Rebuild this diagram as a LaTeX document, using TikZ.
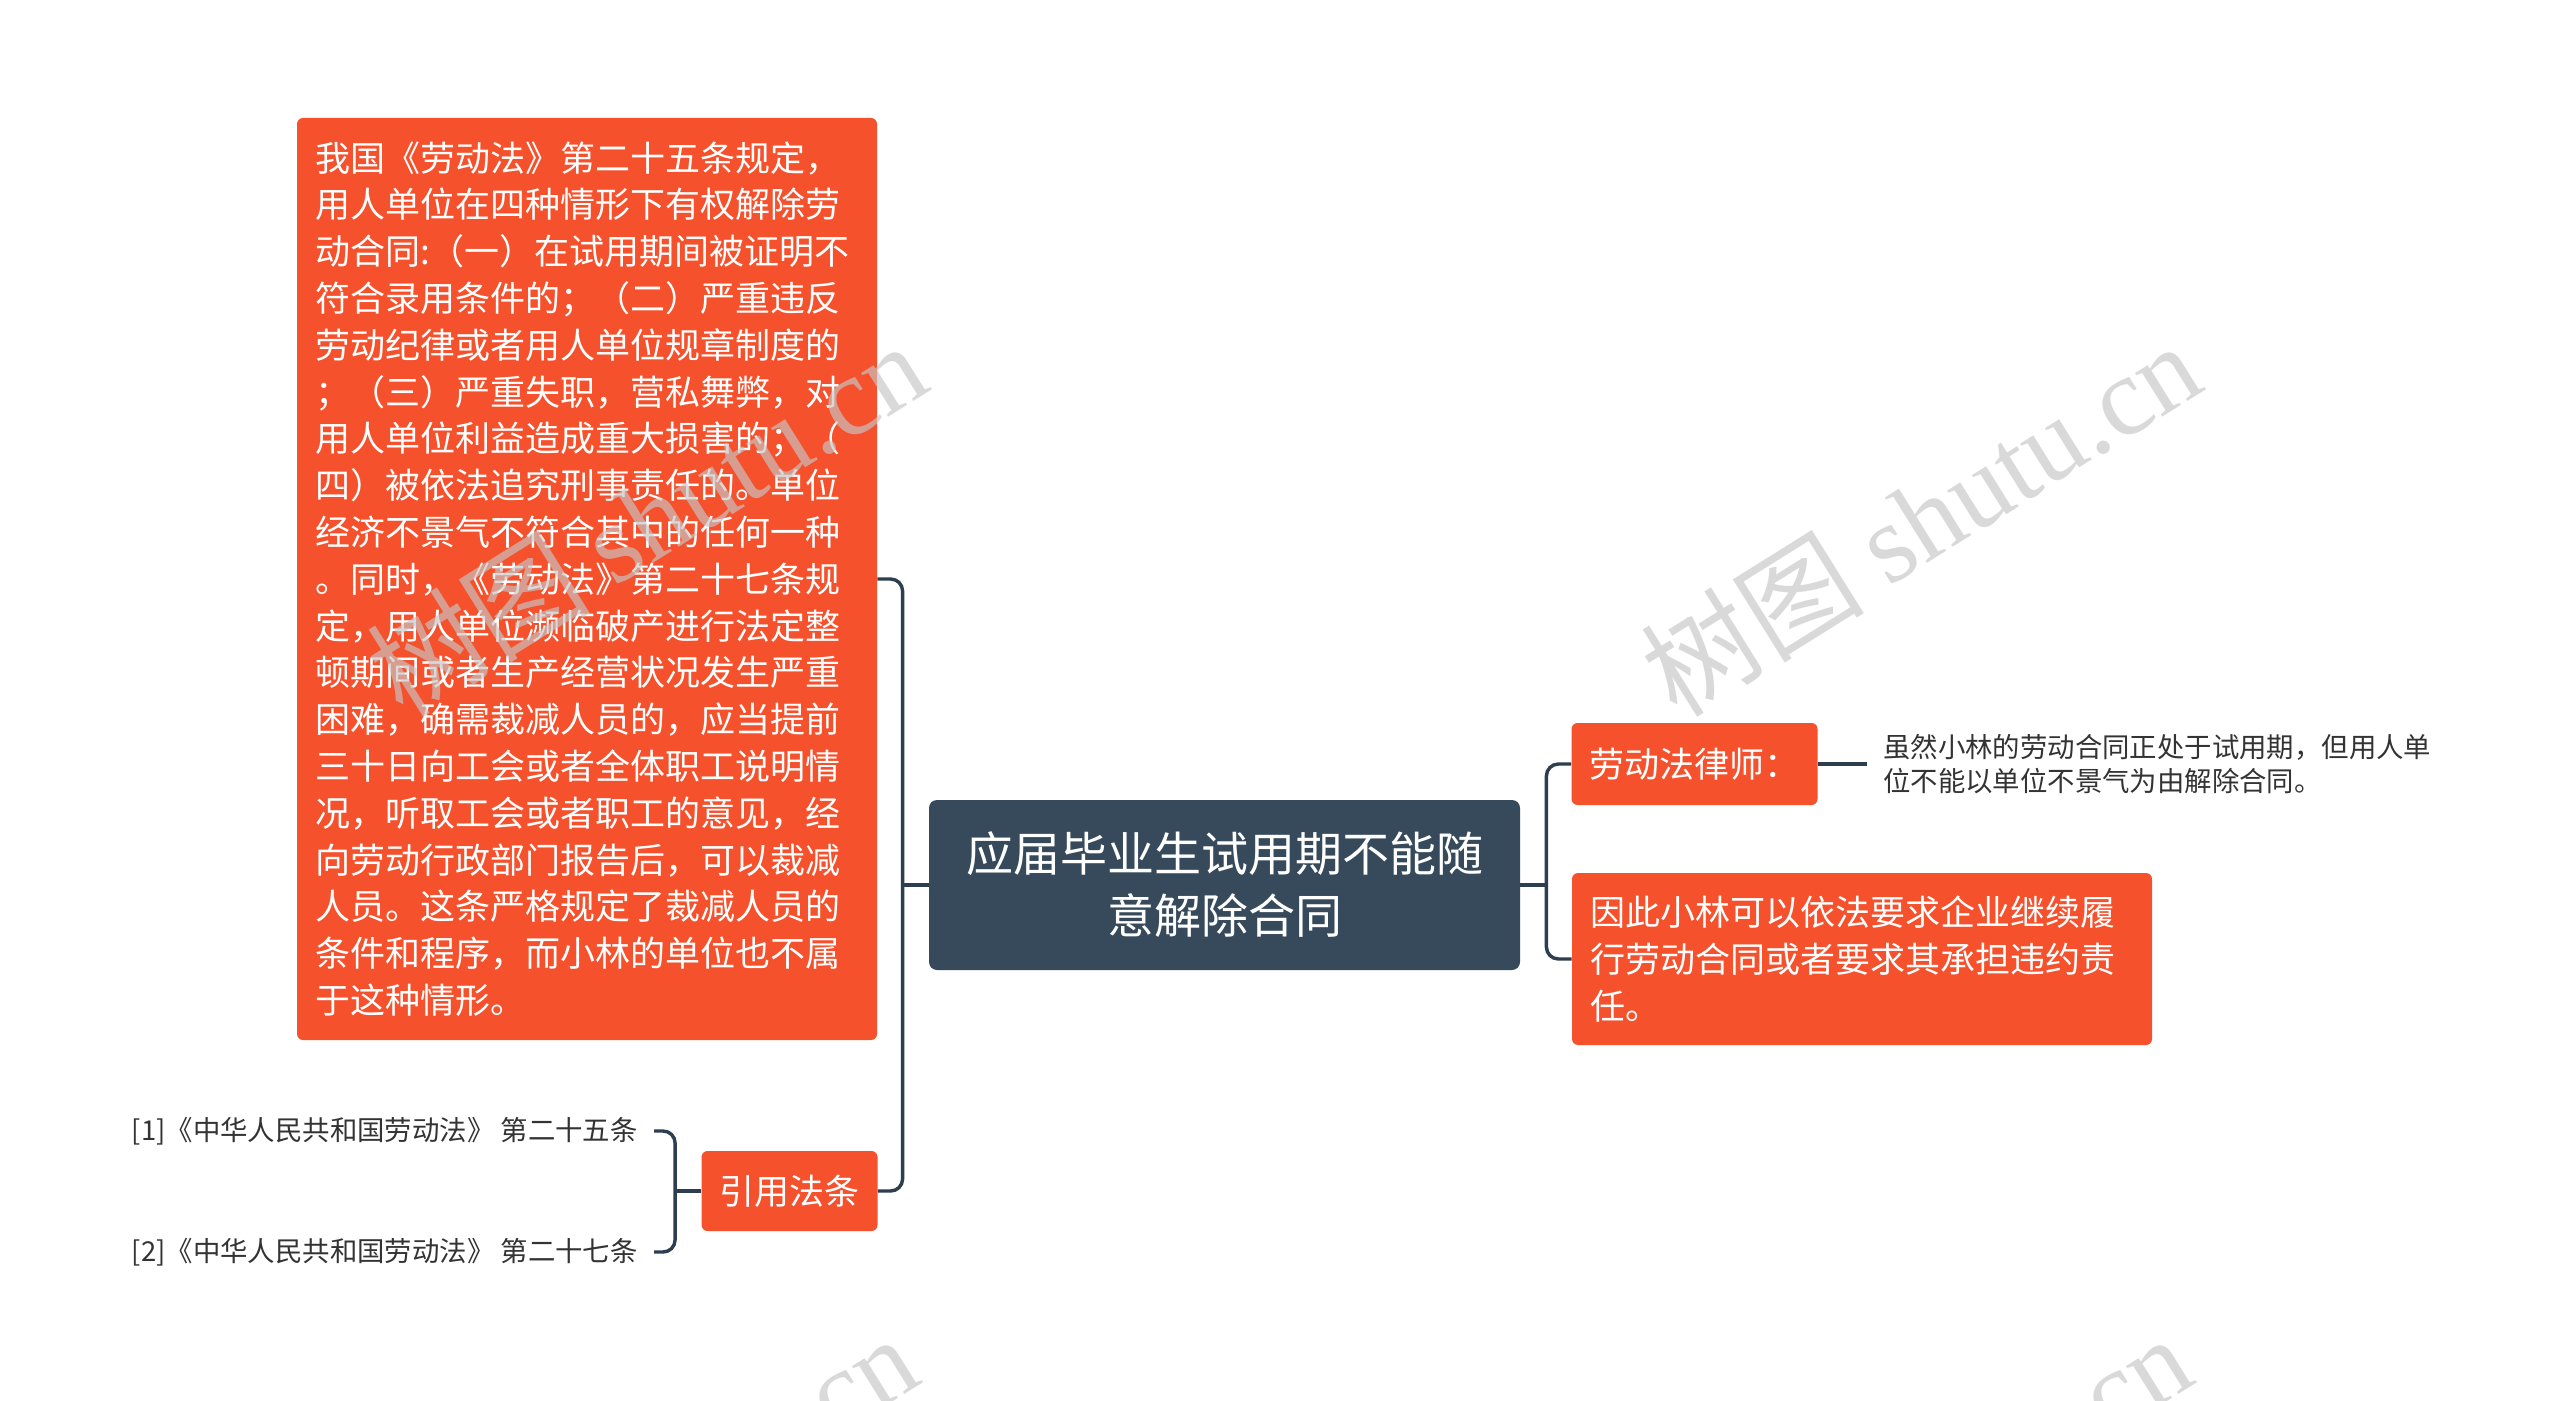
\documentclass[tikz,border=0pt]{standalone}
\usepackage{fontspec}
\setmainfont{Noto Sans CJK SC}
\newfontfamily\wmfont{Liberation Serif}
\usepackage{tikz}
\usepackage{xcolor}
\usetikzlibrary{positioning,calc}
\definecolor{topicred}{HTML}{F5512C}
\definecolor{rootblue}{HTML}{364A5C}
\definecolor{linkblue}{HTML}{2C3E50}
\definecolor{notegray}{HTML}{333333}

\begin{document}
\begin{tikzpicture}[x=0.5pt, y=-0.5pt,
  topic/.style={rectangle, fill=topicred, rounded corners=3pt, text=white, inner xsep=9pt, inner ysep=0pt, font=\fontsize{17.5}{23.4}\selectfont},
  longtopic/.style={topic, text width=272pt, align=left},
  link/.style={draw=linkblue, line width=1.7pt, rounded corners=6pt},
  leaf/.style={text=notegray, inner xsep=8pt, inner ysep=0pt, align=left, font=\fontsize{13.7}{17}\selectfont},
  wmark/.style={text=gray!45, text opacity=0.65, rotate=32, font=\fontsize{56}{56}\selectfont}]
\fill[white] (0,0) rectangle (2560,1401);
\useasboundingbox (0,0) rectangle (2560,1401);

\node[rectangle, fill=rootblue, rounded corners=4pt, text=white, minimum width=295.5pt, minimum height=85pt, align=center, font=\fontsize{23.5}{31}\selectfont] (root) at (1224.5,885) {应届毕业生试用期不能随\\意解除合同};

\node[longtopic, minimum height=461pt] (law) at (587,579) {我国《劳动法》第二十五条规定，\\用人单位在四种情形下有权解除劳\\动合同:（一）在试用期间被证明不\\符合录用条件的；（二）严重违反\\劳动纪律或者用人单位规章制度的\\；（三）严重失职，营私舞弊，对\\用人单位利益造成重大损害的；（\\四）被依法追究刑事责任的。单位\\经济不景气不符合其中的任何一种\\。同时，《劳动法》第二十七条规\\定，用人单位濒临破产进行法定整\\顿期间或者生产经营状况发生严重\\困难，确需裁减人员的，应当提前\\三十日向工会或者全体职工说明情\\况，听取工会或者职工的意见，经\\向劳动行政部门报告后，可以裁减\\人员。这条严格规定了裁减人员的\\条件和程序，而小林的单位也不属\\于这种情形。};
\node[topic, minimum height=40pt] (cite) at (789.5,1191) {引用法条};
\node[topic, minimum height=41pt] (lawyer) at (1694.5,764) {劳动法律师：};
\node[longtopic, minimum height=86pt] (claim) at (1862,959) {因此小林可以依法要求企业继续履\\行劳动合同或者要求其承担违约责\\任。};

\node[leaf, right=24.5pt of lawyer] (note) {虽然小林的劳动合同正处于试用期，但用人单\\位不能以单位不景气为由解除合同。};
\node[leaf, anchor=east] (c1) at (654,1131) {[1]《中华人民共和国劳动法》 第二十五条};
\node[leaf, anchor=east] (c2) at (654,1252) {[2]《中华人民共和国劳动法》 第二十七条};

% connectors
\coordinate (lj) at ($(root.west)+(-26,0)$);
\draw[link] (law.east) -| (lj) |- (cite.east);
\draw[link] (root.west) -- (lj);
\coordinate (rj) at ($(root.east)+(26,0)$);
\draw[link] (lawyer.west) -| (rj) |- (claim.west);
\draw[link] (root.east) -- (rj);
\coordinate (cj) at ($(cite.west)+(-26,0)$);
\draw[link] (c1.east) -| (cj) |- (c2.east);
\draw[link] (cite.west) -- (cj);
\draw[link] (lawyer.east) -- (note.west);

% watermark
\begin{scope}
\clip (0,0) rectangle (2560,1401);
\node[wmark] (wm1) at (1920,518) {树图 {\wmfont shutu.cn}};
\node[wmark] (wm2) at (646,518) {树图 {\wmfont shutu.cn}};
\node[wmark] (wm3) at (1911,1511) {树图 {\wmfont shutu.cn}};
\node[wmark] (wm4) at (637,1511) {树图 {\wmfont shutu.cn}};
\end{scope}
\end{tikzpicture}
\end{document}
